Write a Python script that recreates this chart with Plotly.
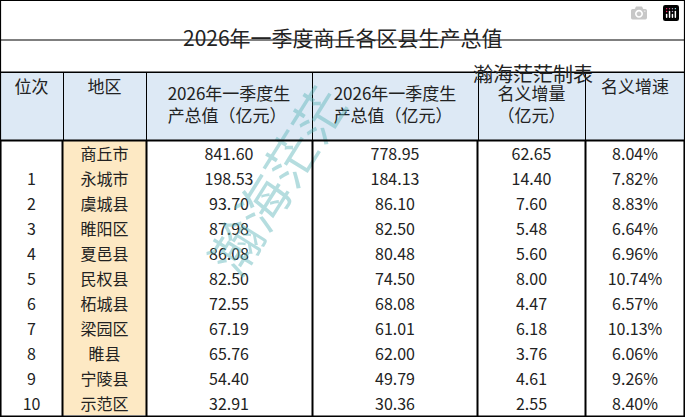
import plotly.graph_objects as go

title = "2026年一季度商丘各区县生产总值"
subtitle = "瀚海茫茫制表"
headers = ["位次", "地区", "2026年一季度生<br>产总值（亿元）", "2026年一季度生<br>产总值（亿元）", "名义增量<br>（亿元）", "名义增速"]
ranks = ["", "1", "2", "3", "4", "5", "6", "7", "8", "9", "10"]
regions = ["商丘市", "永城市", "虞城县", "睢阳区", "夏邑县", "民权县", "柘城县", "梁园区", "睢县", "宁陵县", "示范区"]
gdp_2026 = ["841.60", "198.53", "93.70", "87.98", "86.08", "82.50", "72.55", "67.19", "65.76", "54.40", "32.91"]
gdp_prev = ["778.95", "184.13", "86.10", "82.50", "80.48", "74.50", "68.08", "61.01", "62.00", "49.79", "30.36"]
increase = ["62.65", "14.40", "7.60", "5.48", "5.60", "8.00", "4.47", "6.18", "3.76", "4.61", "2.55"]
growth = ["8.04%", "7.82%", "8.83%", "6.64%", "6.96%", "10.74%", "6.57%", "10.13%", "6.06%", "9.26%", "8.40%"]

W, H = 685, 417
colx = [0, 63, 146, 312, 478, 585, 685]
widths = [colx[i+1]-colx[i] for i in range(6)]
font = "Noto Sans CJK SC"
yellow = "#fde9c4"
fills = ["white", yellow, "white", "white", "white", "white"]

fig = go.Figure(go.Table(
    domain=dict(x=[0, 1], y=[0, (H-72)/H]),
    columnwidth=widths,
    header=dict(values=headers, height=68, fill_color="#dde9f5",
                line=dict(color="black", width=1), align="center",
                font=dict(family=font, size=17, color="#222")),
    cells=dict(values=[ranks, regions, gdp_2026, gdp_prev, increase, growth],
               height=25, fill_color=fills, line=dict(color=fills, width=0),
               align="center", font=dict(family=font, size=16, color="#222")),
))

def px(x): return x / W
def py(y): return 1 - y / H

shapes = []
for y in [0.5, 40, 72]:
    shapes.append(dict(type="line", xref="paper", yref="paper", x0=0, x1=1, y0=py(y), y1=py(y),
                       line=dict(color="black", width=1.2)))
for x in [0.5, W-0.5]:
    shapes.append(dict(type="line", xref="paper", yref="paper", x0=px(x), x1=px(x), y0=0, y1=1,
                       line=dict(color="black", width=1.2)))

ann = [
    dict(text=title, x=0.5, y=py(20), xref="paper", yref="paper", showarrow=False,
         font=dict(family=font, size=21, color="#222")),
    dict(text=subtitle, x=px(595), y=py(57), xref="paper", yref="paper", showarrow=False,
         xanchor="right", font=dict(family=font, size=20, color="#222")),
    dict(text="瀚海茫茫", x=px(275), y=py(290), xref="paper", yref="paper", showarrow=False,
         textangle=-58, font=dict(family=font, size=52, color="rgba(90,180,185,0.45)")),
]
# body borders drawn above the table
for x in colx:
    x0 = min(max(x, 1), W-1)
    ann.append(dict(text=" ", x=px(x0), y=py(140), xref="paper", yref="paper", showarrow=False,
                    xanchor="center", yanchor="top", width=1, height=277, bgcolor="black",
                    borderpad=0, font=dict(size=1)))
for y in [140, 416]:
    ann.append(dict(text=" ", x=0, y=py(y), xref="paper", yref="paper", showarrow=False,
                    xanchor="left", yanchor="middle", width=W, height=1, bgcolor="black",
                    borderpad=0, font=dict(size=1)))

fig.update_layout(width=W, height=H, margin=dict(l=0, r=0, t=0, b=0),
                  paper_bgcolor="white", shapes=shapes, annotations=ann)
fig.write_html("out.html", post_script="document.body.style.margin='0';")
